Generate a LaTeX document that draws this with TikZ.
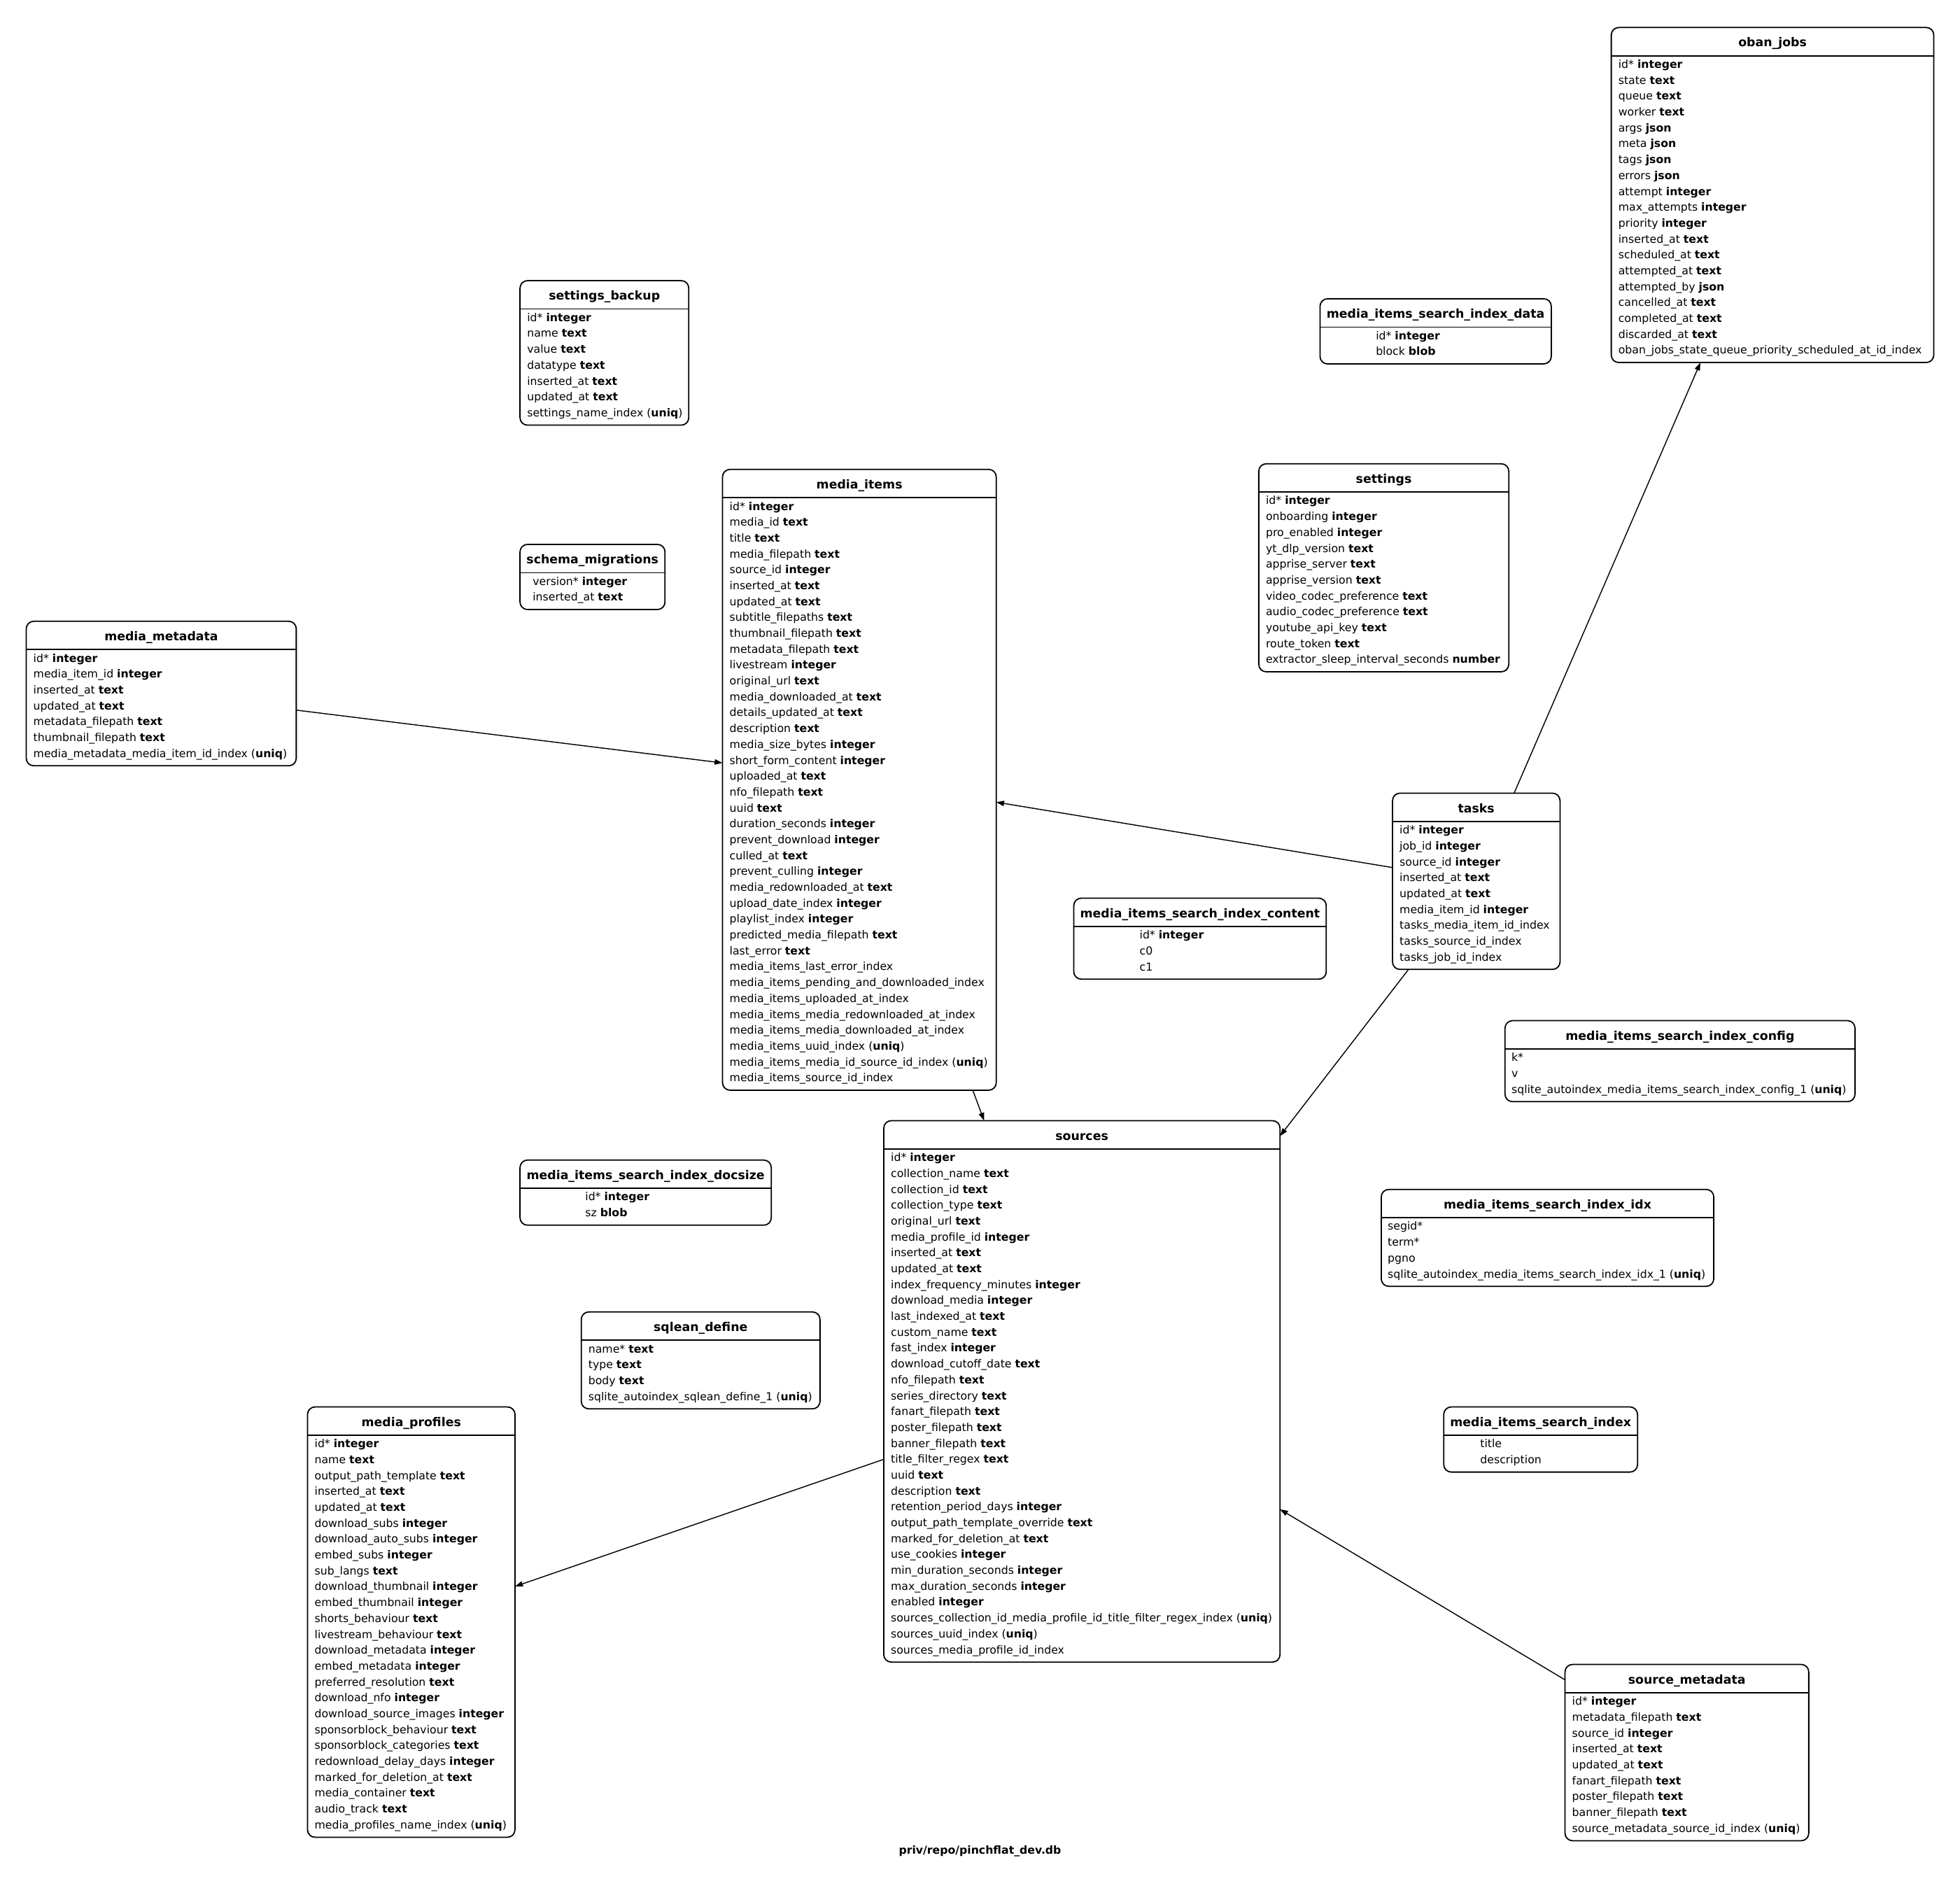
\documentclass[tikz,border=0pt]{standalone}
\usepackage{fontspec}
\setmainfont{DejaVu Sans}
\usetikzlibrary{calc,arrows.meta}
\newcommand{\bfx}[1]{\textbf{#1}}
\tikzset{
  tblbox/.style={draw, line width=1pt, rounded corners=6pt, inner sep=0pt, outer sep=0pt, anchor=north west},
  hdr/.style={font=\fontsize{9.7}{11}\selectfont\bfseries, inner sep=0pt, anchor=base},
  dbname/.style={font=\fontsize{8.8}{10}\selectfont\bfseries, inner sep=0pt, anchor=base},
  rowtxt/.style={font=\fontsize{8.8}{10}\selectfont, inner sep=0pt, anchor=base west},
  sepline/.style={line width=1pt},
  fk/.style={line width=0.8pt, -{Triangle[length=6.3pt,width=4.3pt]}}
}
% #1 name, #2 x0, #3 y0, #4 width, #5 rows, #6 title, #7 text offset, #8 rows
\newcommand{\dbtab}[8]{%
  \pgfmathsetmacro{\tabh}{26.7+12.7*#5}%
  \node[tblbox, minimum width=#4pt, minimum height=\tabh pt] (#1) at (#2,#3) {};
  \node[hdr] (#1-title) at ($(#1.north)+(0,15.5)$) {#6};
  \draw[sepline] ($(#1.north west)+(0,22.7)$) -- ($(#1.north east)+(0,22.7)$);
  \foreach \r [count=\i] in {#8} {\node[rowtxt] (#1-row\i) at ($(#1.north west)+(#7,{32.6+12.7*(\i-1)})$) {\r};}
}
\begin{document}
\begin{tikzpicture}[x=1pt,y=-1pt]
\fill[white] (0,0) rectangle (1568,1510.3);
\useasboundingbox (0,0) rectangle (1568,1510.3);

\dbtab{oban}{1289}{22}{258}{19}{oban\_jobs}{5.5}{id* \bfx{integer}, state \bfx{text}, queue \bfx{text}, worker \bfx{text}, args \bfx{json}, meta \bfx{json}, tags \bfx{json}, errors \bfx{json}, attempt \bfx{integer}, max\_attempts \bfx{integer}, priority \bfx{integer}, inserted\_at \bfx{text}, scheduled\_at \bfx{text}, attempted\_at \bfx{text}, attempted\_by \bfx{json}, cancelled\_at \bfx{text}, completed\_at \bfx{text}, discarded\_at \bfx{text}, oban\_jobs\_state\_queue\_priority\_scheduled\_at\_id\_index}

\dbtab{sb}{416}{224.5}{135}{7}{settings\_backup}{5.5}{id* \bfx{integer}, name \bfx{text}, value \bfx{text}, datatype \bfx{text}, inserted\_at \bfx{text}, updated\_at \bfx{text}, settings\_name\_index (\bfx{uniq})}

\dbtab{misdata}{1056}{239}{185}{2}{media\_items\_search\_index\_data}{44.5}{id* \bfx{integer}, block \bfx{blob}}

\dbtab{settings}{1007}{371}{200}{11}{settings}{5.5}{id* \bfx{integer}, onboarding \bfx{integer}, pro\_enabled \bfx{integer}, yt\_dlp\_version \bfx{text}, apprise\_server \bfx{text}, apprise\_version \bfx{text}, video\_codec\_preference \bfx{text}, audio\_codec\_preference \bfx{text}, youtube\_api\_key \bfx{text}, route\_token \bfx{text}, extractor\_sleep\_interval\_seconds \bfx{number}}

\dbtab{mi}{578}{375.5}{219}{37}{media\_items}{5.5}{id* \bfx{integer}, media\_id \bfx{text}, title \bfx{text}, media\_filepath \bfx{text}, source\_id \bfx{integer}, inserted\_at \bfx{text}, updated\_at \bfx{text}, subtitle\_filepaths \bfx{text}, thumbnail\_filepath \bfx{text}, metadata\_filepath \bfx{text}, livestream \bfx{integer}, original\_url \bfx{text}, media\_downloaded\_at \bfx{text}, details\_updated\_at \bfx{text}, description \bfx{text}, media\_size\_bytes \bfx{integer}, short\_form\_content \bfx{integer}, uploaded\_at \bfx{text}, nfo\_filepath \bfx{text}, uuid \bfx{text}, duration\_seconds \bfx{integer}, prevent\_download \bfx{integer}, culled\_at \bfx{text}, prevent\_culling \bfx{integer}, media\_redownloaded\_at \bfx{text}, upload\_date\_index \bfx{integer}, playlist\_index \bfx{integer}, predicted\_media\_filepath \bfx{text}, last\_error \bfx{text}, media\_items\_last\_error\_index, media\_items\_pending\_and\_downloaded\_index, media\_items\_uploaded\_at\_index, media\_items\_media\_redownloaded\_at\_index, media\_items\_media\_downloaded\_at\_index, media\_items\_uuid\_index (\bfx{uniq}), media\_items\_media\_id\_source\_id\_index (\bfx{uniq}), media\_items\_source\_id\_index}

\dbtab{schema}{416}{435.5}{116}{2}{schema\_migrations}{10}{version* \bfx{integer}, inserted\_at \bfx{text}}

\dbtab{mm}{21}{497}{216}{7}{media\_metadata}{5.5}{id* \bfx{integer}, media\_item\_id \bfx{integer}, inserted\_at \bfx{text}, updated\_at \bfx{text}, metadata\_filepath \bfx{text}, thumbnail\_filepath \bfx{text}, media\_metadata\_media\_item\_id\_index (\bfx{uniq})}

\dbtab{tasks}{1114}{634.5}{134}{9}{tasks}{5.5}{id* \bfx{integer}, job\_id \bfx{integer}, source\_id \bfx{integer}, inserted\_at \bfx{text}, updated\_at \bfx{text}, media\_item\_id \bfx{integer}, tasks\_media\_item\_id\_index, tasks\_source\_id\_index, tasks\_job\_id\_index}

\dbtab{miscontent}{859}{718.5}{202}{3}{media\_items\_search\_index\_content}{52.5}{id* \bfx{integer}, c0, c1}

\dbtab{misconfig}{1204}{816.5}{280}{3}{media\_items\_search\_index\_config}{5}{k*, v, sqlite\_autoindex\_media\_items\_search\_index\_config\_1 (\bfx{uniq})}

\dbtab{src}{707}{896.5}{317}{32}{sources}{5.5}{id* \bfx{integer}, collection\_name \bfx{text}, collection\_id \bfx{text}, collection\_type \bfx{text}, original\_url \bfx{text}, media\_profile\_id \bfx{integer}, inserted\_at \bfx{text}, updated\_at \bfx{text}, index\_frequency\_minutes \bfx{integer}, download\_media \bfx{integer}, last\_indexed\_at \bfx{text}, custom\_name \bfx{text}, fast\_index \bfx{integer}, download\_cutoff\_date \bfx{text}, nfo\_filepath \bfx{text}, series\_directory \bfx{text}, fanart\_filepath \bfx{text}, poster\_filepath \bfx{text}, banner\_filepath \bfx{text}, title\_filter\_regex \bfx{text}, uuid \bfx{text}, description \bfx{text}, retention\_period\_days \bfx{integer}, output\_path\_template\_override \bfx{text}, marked\_for\_deletion\_at \bfx{text}, use\_cookies \bfx{integer}, min\_duration\_seconds \bfx{integer}, max\_duration\_seconds \bfx{integer}, enabled \bfx{integer}, sources\_collection\_id\_media\_profile\_id\_title\_filter\_regex\_index (\bfx{uniq}), sources\_uuid\_index (\bfx{uniq}), sources\_media\_profile\_id\_index}

\dbtab{misdocsize}{416}{928}{201}{2}{media\_items\_search\_index\_docsize}{52}{id* \bfx{integer}, sz \bfx{blob}}

\dbtab{misidx}{1105}{951.5}{266}{4}{media\_items\_search\_index\_idx}{5}{segid*, term*, pgno, sqlite\_autoindex\_media\_items\_search\_index\_idx\_1 (\bfx{uniq})}

\dbtab{sqlean}{465}{1049.5}{191}{4}{sqlean\_define}{5.5}{name* \bfx{text}, type \bfx{text}, body \bfx{text}, sqlite\_autoindex\_sqlean\_define\_1 (\bfx{uniq})}

\dbtab{mp}{246}{1125.5}{166}{25}{media\_profiles}{5.5}{id* \bfx{integer}, name \bfx{text}, output\_path\_template \bfx{text}, inserted\_at \bfx{text}, updated\_at \bfx{text}, download\_subs \bfx{integer}, download\_auto\_subs \bfx{integer}, embed\_subs \bfx{integer}, sub\_langs \bfx{text}, download\_thumbnail \bfx{integer}, embed\_thumbnail \bfx{integer}, shorts\_behaviour \bfx{text}, livestream\_behaviour \bfx{text}, download\_metadata \bfx{integer}, embed\_metadata \bfx{integer}, preferred\_resolution \bfx{text}, download\_nfo \bfx{integer}, download\_source\_images \bfx{integer}, sponsorblock\_behaviour \bfx{text}, sponsorblock\_categories \bfx{text}, redownload\_delay\_days \bfx{integer}, marked\_for\_deletion\_at \bfx{text}, media\_container \bfx{text}, audio\_track \bfx{text}, media\_profiles\_name\_index (\bfx{uniq})}

\dbtab{mis}{1155}{1125.5}{155}{2}{media\_items\_search\_index}{29}{title, description}

\dbtab{sm}{1252}{1331.5}{195}{9}{source\_metadata}{5.5}{id* \bfx{integer}, metadata\_filepath \bfx{text}, source\_id \bfx{integer}, inserted\_at \bfx{text}, updated\_at \bfx{text}, fanart\_filepath \bfx{text}, poster\_filepath \bfx{text}, banner\_filepath \bfx{text}, source\_metadata\_source\_id\_index (\bfx{uniq})}

\node[dbname] (dblabel) at (784,1483.4) {priv/repo/pinchflat\_dev.db};

\draw[fk] (mm) -- (mi);
\draw[fk] (tasks) -- (mi);
\draw[fk] (tasks) -- (oban);
\draw[fk] (tasks) -- (src);
\draw[fk] (mi) -- (src);
\draw[fk] (src) -- (mp);
\draw[fk] (sm) -- (src);
\end{tikzpicture}
\end{document}
